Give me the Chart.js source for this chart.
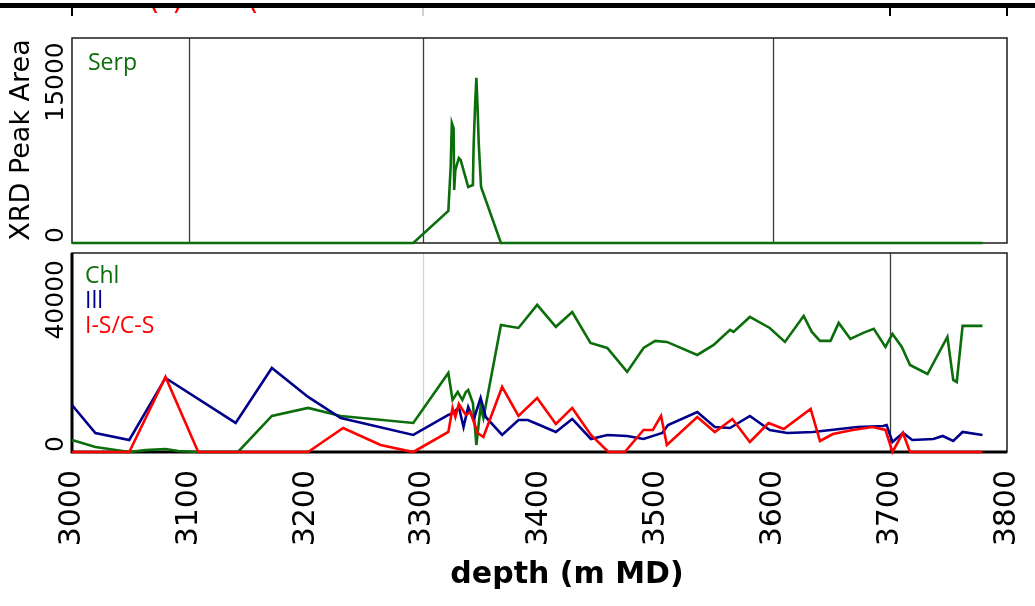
<!DOCTYPE html>
<html>
<head>
<meta charset="utf-8">
<script src="https://cdn.jsdelivr.net/npm/chart.js@4.4.0/dist/chart.umd.min.js"></script>
<style>
	body { margin: 0; background: #fff; }
	#wrap { position: relative; width: 1035px; height: 606px; overflow: hidden; background: #fff; }
	canvas { position: absolute; left: 0; }
	#serpChart { top: 0; }
	#clayChart { top: 245px; }
</style>
</head>
<body>
<div id="wrap">
	<canvas id="serpChart" width="1035" height="250"></canvas>
	<canvas id="clayChart" width="1035" height="361"></canvas>
</div>
<script>
"use strict";

// depth (m MD) and XRD peak area
const serpDepth = [3000, 3292, 3322, 3324, 3325, 3326.5, 3327, 3328, 3331, 3332.5, 3339, 3343, 3343.6, 3345, 3346, 3347, 3348, 3350, 3367, 3779];
const serpArea = [0, 0, 2980, 7080, 11180, 10700, 4940, 6800, 7920, 7740, 5220, 5400, 8950, 13140, 15380, 12680, 9320, 5220, 0, 0];

const chlDepth = [3000, 3020, 3049, 3063, 3080, 3091, 3108, 3142, 3171, 3202, 3230, 3292, 3322, 3325.6, 3330, 3334, 3337, 3339, 3343, 3346, 3349.6, 3352, 3367, 3382, 3398, 3414, 3428, 3443.6, 3458, 3475, 3489, 3499, 3509, 3535, 3549, 3563, 3566, 3580, 3597, 3610, 3626, 3633, 3640, 3649, 3656, 3666, 3677, 3686, 3696, 3702, 3710, 3717, 3732, 3749, 3754, 3757, 3762, 3779];
const chlArea = [3160, 1300, 0, 500, 800, 250, 0, 0, 9470, 11580, 9470, 7630, 20780, 13680, 15780, 13680, 15780, 16300, 12890, 1840, 11840, 8940, 33400, 32600, 38660, 32900, 36800, 28670, 27350, 21040, 27350, 29200, 28930, 25500, 28140, 32090, 31560, 35500, 32600, 28930, 35770, 31560, 29200, 29200, 33930, 29720, 31300, 32350, 27600, 31040, 27600, 22880, 20500, 30250, 18940, 18400, 33140, 33140];

const illDepth = [3000, 3020, 3049, 3080, 3140, 3171, 3202, 3230, 3292, 3322, 3326.5, 3331, 3335, 3339, 3343.6, 3349.6, 3354, 3368, 3382, 3390, 3398, 3414, 3428, 3444, 3458, 3475, 3489, 3505, 3510, 3535, 3550, 3563, 3580, 3597, 3612, 3634, 3657, 3672, 3694, 3697, 3702, 3711, 3719, 3737, 3745, 3754, 3762, 3779];
const illArea = [12360, 5000, 3160, 19460, 7630, 22090, 14470, 8940, 4470, 9730, 10260, 11840, 6580, 11840, 8420, 14200, 9200, 4470, 8420, 8420, 7370, 5260, 8680, 3420, 4470, 4210, 3420, 5000, 7100, 10520, 6580, 6310, 9470, 5790, 5000, 5260, 6050, 6580, 6840, 7100, 2630, 5000, 3160, 3420, 4210, 2890, 5260, 4470];

const iscsDepth = [3000, 3049, 3080, 3108, 3202, 3232, 3264, 3292, 3322, 3325.6, 3328, 3331, 3337, 3341, 3347, 3352, 3368, 3382, 3398, 3414, 3428, 3444, 3459, 3473, 3489, 3497, 3504, 3509, 3535, 3550, 3565, 3580, 3596, 3609, 3632, 3640, 3651, 3668, 3685, 3696, 3702, 3711, 3717, 3779];
const iscsArea = [0, 0, 19730, 0, 0, 6310, 1840, 0, 5260, 11580, 9200, 12630, 9730, 10520, 5000, 3950, 17100, 9470, 14200, 7370, 11580, 4470, 0, 0, 5790, 5790, 9470, 1840, 9200, 5260, 8680, 2630, 7630, 6050, 11310, 2890, 4730, 5790, 6580, 5790, 0, 5000, 0, 0];

const serpTicks = [0, 15000];
const clayTicks = [0, 40000];

const green = "#0b6e0b";
const blue = "#00008b";
const red = "#ff0000";

const toPoints = (depths, values) => depths.map((depth, index) => ({ x: depth, y: values[index] }));

const lineDataset = (label, depths, values, color, order) => ({
	label: label,
	data: toPoints(depths, values),
	borderColor: color,
	borderWidth: 2.6,
	pointRadius: 0,
	tension: 0,
	clip: 6,
	order: order
});

const drawRotated = (ctx, text, x, y, font, color) => {
	ctx.save();
	ctx.font = font;
	ctx.fillStyle = color;
	ctx.textAlign = "center";
	ctx.textBaseline = "middle";
	ctx.translate(x, y);
	ctx.rotate(-Math.PI / 2);
	ctx.fillText(text, 0, 0);
	ctx.restore();
};

// vertical lines, frame, rotated y tick labels and the in-panel legend
const makePanelPlugin = settings => ({
	id: "panel",
	beforeDatasetsDraw: chart => {
		let ctx = chart.ctx;
		let area = chart.chartArea;
		let xScale = chart.scales.x;
		ctx.save();
		for (let line of settings.lines) {
			let x = Math.round(xScale.getPixelForValue(line.depth)) + 0.5;
			ctx.strokeStyle = line.color;
			ctx.lineWidth = 1.3;
			ctx.beginPath();
			ctx.moveTo(x, area.top);
			ctx.lineTo(x, area.bottom);
			ctx.stroke();
		}
		ctx.strokeStyle = "#2a2a2a";
		ctx.lineWidth = 1.6;
		ctx.strokeRect(area.left, area.top, area.right - area.left, area.bottom - area.top);
		if (settings.heavyAxes) {
			ctx.strokeStyle = "#000";
			ctx.lineWidth = 3;
			ctx.beginPath();
			ctx.moveTo(area.left, area.top);
			ctx.lineTo(area.left, area.bottom);
			ctx.lineTo(area.right, area.bottom);
			ctx.stroke();
		}
		ctx.restore();
	},
	afterDraw: chart => {
		let ctx = chart.ctx;
		let area = chart.chartArea;
		let yScale = chart.scales.y;
		let tickFont = "25px 'DejaVu Sans'";
		ctx.save();
		ctx.font = tickFont;
		for (let value of settings.yTicks) {
			let text = String(value);
			let half = ctx.measureText(text).width / 2;
			let y = yScale.getPixelForValue(value);
			y = Math.max(area.top + half, Math.min(area.bottom - half, y));
			drawRotated(ctx, text, 56, y, tickFont, "#000");
		}
		ctx.font = "23px 'Open Sans'";
		ctx.textAlign = "left";
		ctx.textBaseline = "middle";
		settings.legend.forEach((entry, index) => {
			ctx.fillStyle = entry.color;
			ctx.fillText(entry.text, settings.legendX, settings.legendY + index * 25);
		});
		ctx.restore();
		if (settings.extra) {
			settings.extra(chart);
		}
	}
});

const drawTopStrip = chart => {
	let ctx = chart.ctx;
	let xScale = chart.scales.x;
	ctx.save();
	ctx.fillStyle = "#000";
	ctx.fillRect(0, 3, 1035, 5);
	for (let tick of [{ depth: 3000, color: "#000" }, { depth: 3300, color: "#d0d0d0" }, { depth: 3700, color: "#000" }, { depth: 3800, color: "#000" }]) {
		let x = Math.round(xScale.getPixelForValue(tick.depth));
		ctx.fillStyle = tick.color;
		ctx.fillRect(x - 1, 8, 2, 8);
	}
	ctx.beginPath();
	ctx.rect(0, 8, 1035, 12);
	ctx.clip();
	ctx.fillStyle = red;
	ctx.font = "30px 'DejaVu Sans'";
	ctx.textBaseline = "alphabetic";
	ctx.fillText("(", 148, 9);
	ctx.fillText(")", 172, 9);
	ctx.fillText("(", 247, 9);
	ctx.restore();
	drawRotated(ctx, "XRD Peak Area", 22, 140, "27px 'DejaVu Sans'", "#000");
};

const drawDepthTitle = chart => {
	let ctx = chart.ctx;
	ctx.save();
	ctx.font = "bold 30px 'DejaVu Sans'";
	ctx.fillStyle = "#000";
	ctx.textAlign = "center";
	ctx.textBaseline = "middle";
	ctx.fillText("depth (m MD)", 567, 330);
	ctx.restore();
};

const buildSerpChart = () => {
	let canvas = document.querySelector("canvas#serpChart");
	new Chart(canvas, {
		type: "line",
		data: {
			datasets: [lineDataset("Serp", serpDepth, serpArea, green, 0)]
		},
		options: {
			responsive: false,
			animation: false,
			layout: {
				padding: { left: 72, right: 28, top: 38, bottom: 7 }
			},
			scales: {
				x: { type: "linear", min: 3000, max: 3800, display: false },
				y: { min: 0, max: 19100, display: false }
			},
			plugins: {
				legend: { display: false },
				tooltip: { enabled: false }
			}
		},
		plugins: [makePanelPlugin({
			lines: [{ depth: 3100, color: "#3a3a3a" }, { depth: 3300, color: "#3a3a3a" }, { depth: 3600, color: "#3a3a3a" }],
			yTicks: serpTicks,
			legend: [{ text: "Serp", color: green }],
			legendX: 88,
			legendY: 63,
			heavyAxes: false,
			extra: drawTopStrip
		})]
	});
};

const buildClayChart = () => {
	let canvas = document.querySelector("canvas#clayChart");
	new Chart(canvas, {
		type: "line",
		data: {
			datasets: [
				lineDataset("Chl", chlDepth, chlArea, green, 2),
				lineDataset("Ill", illDepth, illArea, blue, 1),
				lineDataset("I-S/C-S", iscsDepth, iscsArea, red, 0)
			]
		},
		options: {
			responsive: false,
			animation: false,
			layout: {
				padding: { left: 72, right: 28, top: 8, bottom: 0 }
			},
			scales: {
				x: {
					type: "linear",
					min: 3000,
					max: 3800,
					grid: { display: false },
					border: { display: false },
					ticks: {
						stepSize: 100,
						autoSkip: false,
						minRotation: 90,
						maxRotation: 90,
						padding: 10,
						color: "#000",
						font: { family: "DejaVu Sans", size: 30 },
						callback: value => String(value)
					},
					afterFit: scale => {
						// keep the plot frame where the reference has it
						scale.height = 154;
						scale.paddingLeft = 0;
						scale.paddingRight = 0;
					}
				},
				y: { min: 0, max: 52300, display: false }
			},
			plugins: {
				legend: { display: false },
				tooltip: { enabled: false }
			}
		},
		plugins: [makePanelPlugin({
			lines: [{ depth: 3300, color: "#d4d4d4" }, { depth: 3700, color: "#3a3a3a" }],
			yTicks: clayTicks,
			legend: [{ text: "Chl", color: green }, { text: "Ill", color: blue }, { text: "I-S/C-S", color: red }],
			legendX: 85,
			legendY: 31,
			heavyAxes: true,
			extra: drawDepthTitle
		})]
	});
};

buildSerpChart();
buildClayChart();
</script>
</body>
</html>
